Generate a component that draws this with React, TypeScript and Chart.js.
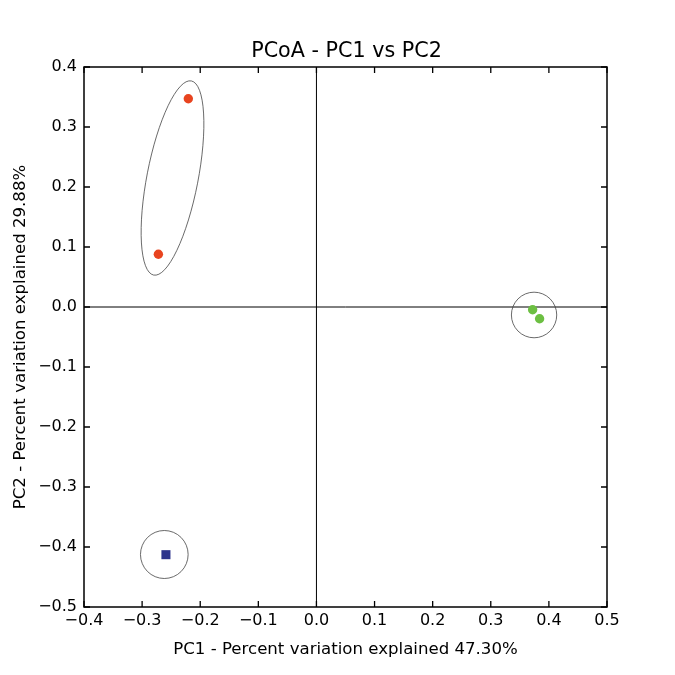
import React, { useEffect, useRef } from "react";
import { Chart, registerables } from "chart.js";

Chart.register(...registerables);

const chartTitle = "PCoA - PC1 vs PC2";
const xAxisTitle = "PC1 - Percent variation explained 47.30%";
const yAxisTitle = "PC2 - Percent variation explained 29.88%";

const xTicks = [-0.4, -0.3, -0.2, -0.1, 0.0, 0.1, 0.2, 0.3, 0.4, 0.5];
const yTicks = [-0.5, -0.4, -0.3, -0.2, -0.1, 0.0, 0.1, 0.2, 0.3, 0.4];

const redX = [-0.2205, -0.272];
const redY = [0.347, 0.088];
const greenX = [0.372, 0.384];
const greenY = [-0.0045, -0.0195];
const blueX = [-0.259];
const blueY = [-0.4128];

// confidence ellipses (data units): centre, semi-axes, rotation (deg)
const ellipseCx = [-0.2477, 0.3745, -0.2618];
const ellipseCy = [0.215, -0.0133, -0.4125];
const ellipseRx = [0.165, 0.039, 0.041];
const ellipseRy = [0.044, 0.038, 0.04];
const ellipseAngle = [78.65, 0, 0];

const FONT = "'DejaVu Sans', sans-serif";

const fmt = (v: number) => {
  const s = Number(v).toFixed(1);
  return s.startsWith("-") ? "\u2212" + s.slice(1) : s;
};

const toPts = (xs: number[], ys: number[]) => xs.map((x, i) => ({ x, y: ys[i] }));

const framePlugin = {
  id: "framePlugin",
  beforeDatasetsDraw(chart: any) {
    const { ctx, chartArea: a, scales } = chart;
    const x0 = scales.x.getPixelForValue(0);
    const y0 = scales.y.getPixelForValue(0);
    ctx.save();
    ctx.strokeStyle = "#000";
    ctx.lineWidth = 1;
    ctx.beginPath();
    ctx.moveTo(x0, a.top);
    ctx.lineTo(x0, a.bottom);
    ctx.moveTo(a.left, y0);
    ctx.lineTo(a.right, y0);
    ctx.stroke();
    ctx.restore();
  },
  afterDatasetsDraw(chart: any) {
    const { ctx, chartArea: a, scales } = chart;
    const sx = scales.x;
    const sy = scales.y;
    const ux = Math.abs(sx.getPixelForValue(1) - sx.getPixelForValue(0));
    const uy = Math.abs(sy.getPixelForValue(1) - sy.getPixelForValue(0));
    // ellipses
    ctx.save();
    ctx.strokeStyle = "#444";
    ctx.lineWidth = 0.8;
    for (let i = 0; i < ellipseCx.length; i++) {
      ctx.save();
      ctx.translate(sx.getPixelForValue(ellipseCx[i]), sy.getPixelForValue(ellipseCy[i]));
      ctx.scale(ux, -uy);
      ctx.rotate((ellipseAngle[i] * Math.PI) / 180);
      ctx.beginPath();
      ctx.ellipse(0, 0, ellipseRx[i], ellipseRy[i], 0, 0, Math.PI * 2);
      ctx.restore();
      ctx.stroke();
    }
    ctx.restore();
    // frame
    ctx.save();
    ctx.strokeStyle = "#000";
    ctx.lineWidth = 1.5;
    ctx.strokeRect(a.left, a.top, a.right - a.left, a.bottom - a.top);
    ctx.lineWidth = 1.3;
    const tl = 6;
    ctx.beginPath();
    xTicks.forEach((v) => {
      const p = sx.getPixelForValue(v);
      ctx.moveTo(p, a.bottom);
      ctx.lineTo(p, a.bottom - tl);
      ctx.moveTo(p, a.top);
      ctx.lineTo(p, a.top + tl);
    });
    yTicks.forEach((v) => {
      const p = sy.getPixelForValue(v);
      ctx.moveTo(a.left, p);
      ctx.lineTo(a.left + tl, p);
      ctx.moveTo(a.right, p);
      ctx.lineTo(a.right - tl, p);
    });
    ctx.stroke();
    ctx.restore();
  },
  afterDraw(chart: any) {
    const { ctx, chartArea: a } = chart;
    ctx.save();
    ctx.fillStyle = "#000";
    ctx.font = `20.7px ${FONT}`;
    ctx.textAlign = "center";
    ctx.textBaseline = "alphabetic";
    ctx.fillText(chartTitle, (a.left + a.right) / 2 + 1, 57);
    ctx.restore();
  },
};

export default function App() {
  const ref = useRef<HTMLCanvasElement>(null);
  useEffect(() => {
    if (!ref.current) return;
    Chart.defaults.font.family = FONT;
    Chart.defaults.color = "#000";
    const chart = new Chart(ref.current, {
      type: "scatter",
      data: {
        datasets: [
          {
            label: "red",
            data: toPts(redX, redY),
            backgroundColor: "#e8441f",
            borderColor: "#e8441f",
            pointRadius: 4.7,
            pointStyle: "circle",
            borderWidth: 0,
          },
          {
            label: "green",
            data: toPts(greenX, greenY),
            backgroundColor: "#6cbf42",
            borderColor: "#6cbf42",
            pointRadius: 4.7,
            pointStyle: "circle",
            borderWidth: 0,
          },
          {
            label: "blue",
            data: toPts(blueX, blueY),
            backgroundColor: "#2c338c",
            borderColor: "#2c338c",
            pointRadius: 6.4,
            pointStyle: "rect",
            borderWidth: 0,
          },
        ],
      },
      options: {
        responsive: false,
        maintainAspectRatio: false,
        animation: false,
        layout: { padding: { left: 0, top: 67, right: 68, bottom: 0 } },
        plugins: {
          legend: { display: false },
          title: { display: false },
          tooltip: { enabled: false },
        },
        scales: {
          x: {
            type: "linear",
            min: -0.4,
            max: 0.5,
            grid: { display: false, drawTicks: false },
            border: { display: false },
            afterBuildTicks: (s: any) => {
              s.ticks = xTicks.map((v) => ({ value: v }));
            },
            afterFit: (s: any) => {
              s.height = 68;
            },
            ticks: {
              callback: (v: any) => fmt(v),
              font: { size: 16 },
              padding: 4,
              maxRotation: 0,
              autoSkip: false,
              color: "#000",
            },
            title: {
              display: true,
              text: xAxisTitle,
              font: { size: 16.6 },
              padding: { top: 0, bottom: 15 },
              color: "#000",
            },
          },
          y: {
            type: "linear",
            min: -0.5,
            max: 0.4,
            grid: { display: false, drawTicks: false },
            border: { display: false },
            afterBuildTicks: (s: any) => {
              s.ticks = yTicks.map((v) => ({ value: v }));
            },
            afterFit: (s: any) => {
              s.width = 84;
            },
            ticks: {
              callback: (v: any) => fmt(v),
              font: { size: 16 },
              padding: 7,
              autoSkip: false,
              color: "#000",
            },
            title: {
              display: true,
              text: yAxisTitle,
              font: { size: 16.6 },
              padding: { top: 11, bottom: 0 },
              color: "#000",
            },
          },
        },
      },
      plugins: [framePlugin],
    } as any);
    return () => chart.destroy();
  }, []);
  return (
    <div style={{ position: "fixed", left: 0, top: 0, width: 675, height: 675 }}>
      <canvas ref={ref} width={675} height={675} />
    </div>
  );
}
